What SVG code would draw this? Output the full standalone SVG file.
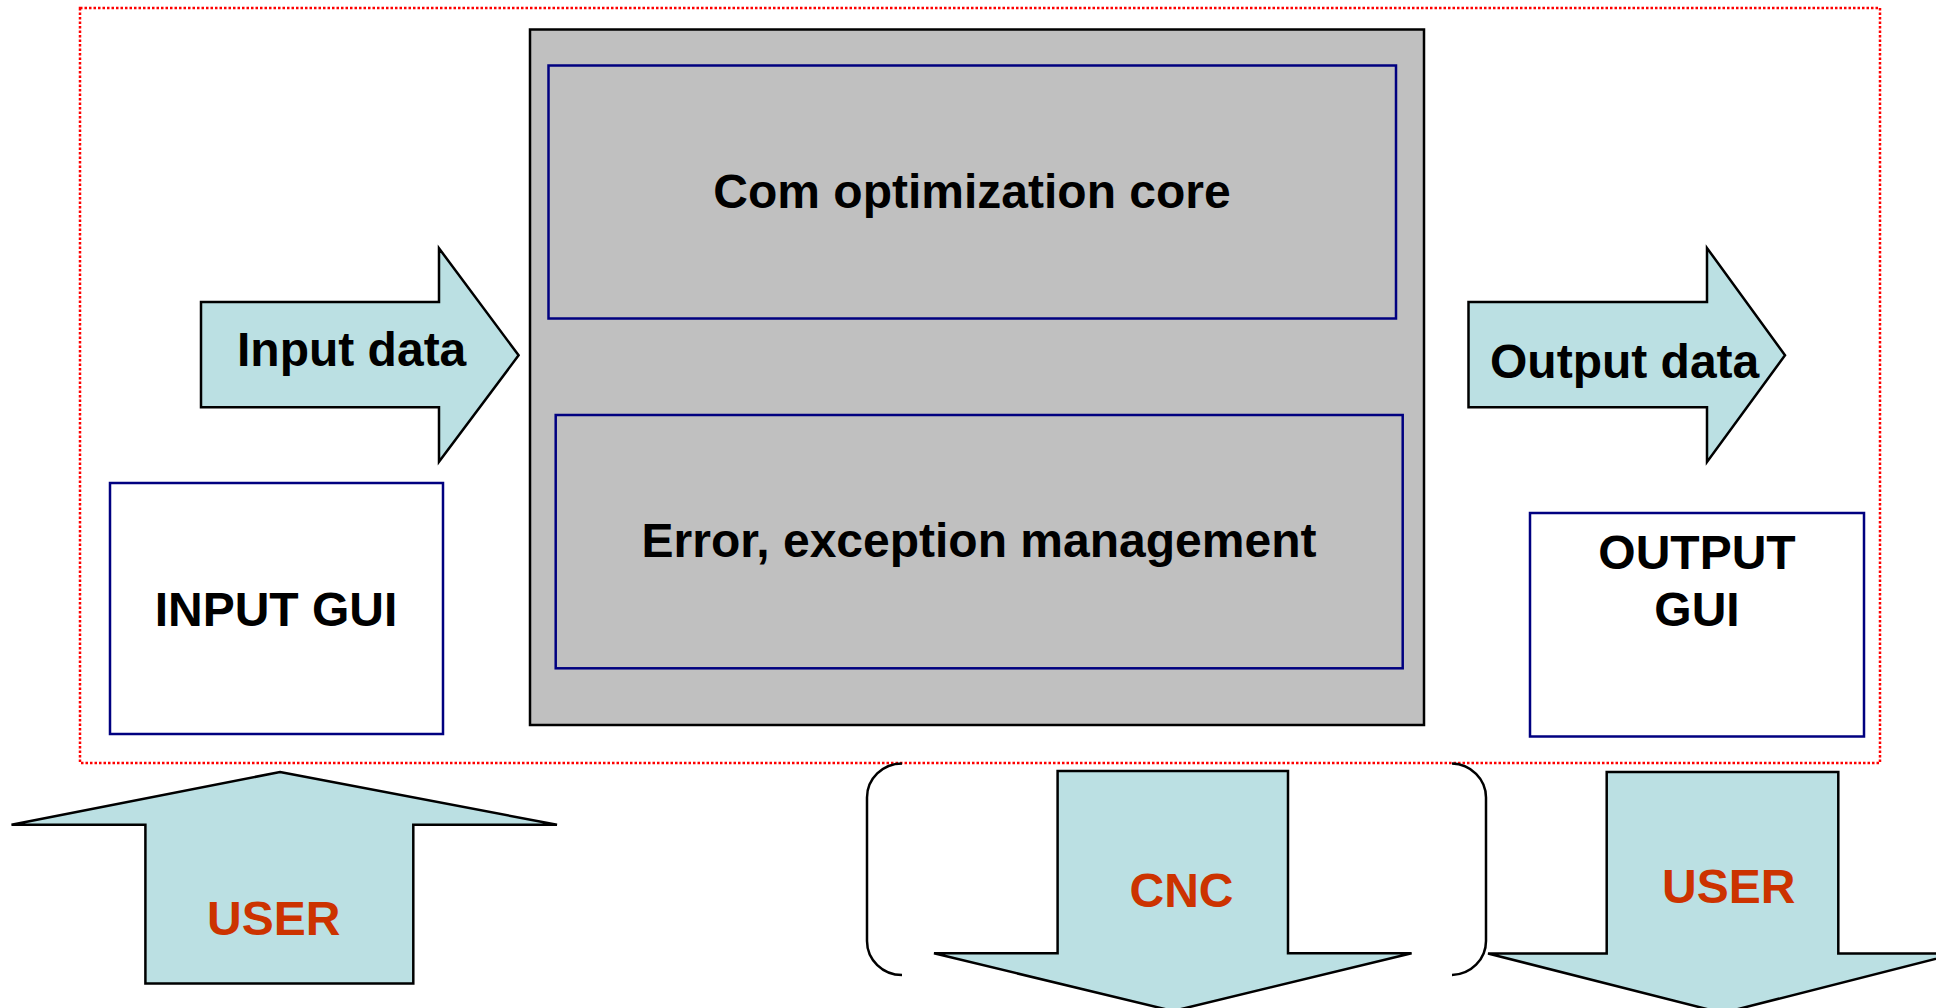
<svg xmlns="http://www.w3.org/2000/svg" width="1936" height="1008" viewBox="0 0 1936 1008">
<style>
.t{font-family:"Liberation Sans",Arial,sans-serif;font-weight:bold;font-size:48px;fill:#000}
.u{font-family:"Liberation Sans",Arial,sans-serif;font-weight:bold;font-size:48px;fill:#CC3300}
.arrow{fill:#BBE0E3;stroke:#000;stroke-width:2.5;stroke-linejoin:miter}
.blue{fill:none;stroke:#000080;stroke-width:2.5}
.bracket{fill:none;stroke:#000;stroke-width:2.5}
</style>
<rect width="1936" height="1008" fill="#fff"/>
<g id="boundary">
<rect x="80" y="8" width="1800" height="755" fill="none" stroke="#FF0000" stroke-width="2.5" stroke-dasharray="2.5 2"/>
</g>
<g id="core-block">
<rect x="530" y="29.5" width="894" height="695.5" fill="#C0C0C0" stroke="#000" stroke-width="2.5"/>
</g>
<g id="com-optimization-core">
<rect class="blue" x="548.5" y="65.5" width="847.5" height="253"/>
<text class="t" x="972" y="208" text-anchor="middle">Com optimization core</text>
</g>
<g id="error-management">
<rect class="blue" x="555.7" y="415" width="847" height="253.3"/>
<text class="t" x="979" y="556.7" text-anchor="middle">Error, exception management</text>
</g>
<g id="input-gui">
<rect class="blue" x="110" y="483" width="333" height="251" fill="#fff"/>
<text class="t" x="276" y="626" text-anchor="middle">INPUT GUI</text>
</g>
<g id="output-gui">
<rect class="blue" x="1530" y="513" width="334" height="223.5"/>
<text class="t" x="1697" y="568.5" text-anchor="middle">OUTPUT</text>
<text class="t" x="1697" y="626" text-anchor="middle">GUI</text>
</g>
<g id="connectors">
<g id="input-data">
<polygon class="arrow" points="201,302 439,302 439,248.3 518.6,355.3 439,461.7 439,407.3 201,407.3"/>
<text class="t" x="237" y="366">Input data</text>
</g>
<g id="output-data">
<polygon class="arrow" points="1468.5,302 1707,302 1707,248 1785,355.3 1707,462 1707,407.3 1468.5,407.3"/>
<text class="t" x="1490" y="378">Output data</text>
</g>
<g id="user-in">
<polygon class="arrow" points="280,772 557,824.8 413.3,824.8 413.3,983.5 145.4,983.5 145.4,824.8 11.5,824.8"/>
<text class="u" x="207" y="934.7">USER</text>
</g>
<g id="cnc-brackets">
<path class="bracket" d="M902,763.5 A35,34 0 0 0 867,797.5 L867,941 A35,34 0 0 0 902,975"/>
<path class="bracket" d="M1452,763.5 A35,34 0 0 1 1486,797.5 L1486,941 A35,34 0 0 1 1452,975"/>
</g>
<g id="cnc">
<polygon class="arrow" points="1057.6,771 1288,771 1288,953.3 1411.6,953.3 1173,1011 934,953.3 1057.6,953.3"/>
<text class="u" x="1129.5" y="906.7">CNC</text>
</g>
<g id="user-out">
<polygon class="arrow" points="1606.7,772 1838.3,772 1838.3,953.5 1957,953.5 1722.5,1013 1488,953.5 1606.7,953.5"/>
<text class="u" x="1662" y="902.7">USER</text>
</g>
</g>
</svg>
